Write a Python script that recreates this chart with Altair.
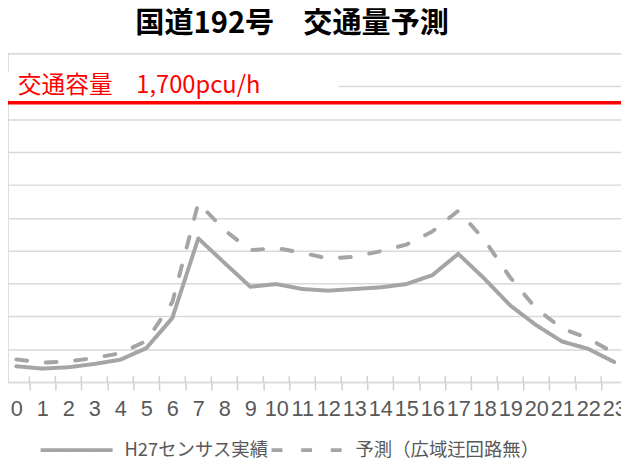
import altair as alt
import pandas as pd

# ---- data ----
hours = ["0", "1", "2", "3", "4", "5", "6", "7", "8", "9", "10", "11",
         "12", "13", "14", "15", "16", "17", "18", "19", "20", "21", "22", "23"]
h27_actual = [96, 82, 90, 110, 136, 206, 390, 874, 726, 580, 596, 566,
              556, 566, 576, 596, 650, 780, 630, 466, 346, 246, 202, 122]
forecast = [138, 118, 126, 146, 176, 250, 486, 1090, 926, 802, 816, 786,
            752, 762, 796, 836, 916, 1042, 866, 636, 446, 326, 266, 176]
series_names = ["H27センサス実績", "予測（広域迂回路無）"]
capacity = 1700
capacity_label = "交通容量　1,700pcu/h"
title_text = "国道192号　交通量予測"
y_gridlines = [0, 200, 400, 600, 800, 1000, 1200, 1400, 1600, 1800, 2000]

rows = []
for h, v in zip(hours, h27_actual):
    rows.append({"hour": h, "value": v, "series": series_names[0]})
for h, v in zip(hours, forecast):
    rows.append({"hour": h, "value": v, "series": series_names[1]})
df = pd.DataFrame(rows)
ticks_df = pd.DataFrame({"hour": hours})
cap_df = pd.DataFrame({"value": [capacity], "label": [capacity_label]})

W, H = 621, 333
GRAY = "#a5a5a5"
GRID = "#d9d9d9"
JP = "Noto Sans CJK JP"

x_scale = alt.Scale(domain=hours, range=[-4.7, 627.3], paddingInner=0, paddingOuter=0)
y_scale = alt.Scale(domain=[0, 2000], nice=False, zero=True)

x_axis = alt.Axis(title=None, labelAngle=0, labelFont="Liberation Sans", labelFontSize=22,
                  labelColor="#595959", labelOverlap=False, labelBound=False, labelFlush=False,
                  tickBand="extent", tickSize=8, tickColor="#cfcfcf", tickWidth=1.5, ticks=True,
                  domainColor=GRID, domainWidth=1.5, labelPadding=9, grid=False)
y_axis = alt.Axis(title=None, labels=False, ticks=False, domain=False, grid=True,
                  gridColor=GRID, gridWidth=1.5, values=y_gridlines)

X = lambda **kw: alt.X("hour:O", scale=x_scale, axis=x_axis, sort=hours, **kw)
Y = lambda: alt.Y("value:Q", scale=y_scale, axis=y_axis)

lines = alt.Chart(df).mark_line(strokeWidth=4, strokeCap="round", strokeJoin="round",
                                color=GRAY).encode(
    x=X(),
    y=Y(),
    strokeDash=alt.StrokeDash("series:N",
                              scale=alt.Scale(domain=series_names, range=[[1, 0], [11, 19]]),
                              legend=alt.Legend(title=None, orient="none", legendX=31, legendY=363,
                                                direction="horizontal", symbolType="stroke",
                                                symbolSize=5329, symbolStrokeWidth=4,
                                                symbolStrokeColor=GRAY,
                                                labelFont=JP, labelFontSize=18.6,
                                                labelColor="#595959", labelOffset=10,
                                                columnPadding=-5, labelLimit=0, padding=0)),
)

inner_ticks = alt.Chart(ticks_df).mark_rule(color="#cfcfcf", strokeWidth=1.5).encode(
    x=X(bandPosition=0),
    y=alt.value(H - 6),
    y2=alt.value(H),
)

label_box = alt.Chart(cap_df).mark_rect(color="white").encode(
    x=alt.value(0), x2=alt.value(335), y=alt.value(19), y2=alt.value(46)
)

cap_rule = alt.Chart(cap_df).mark_rule(color="#ff0000", strokeWidth=3.5).encode(
    y=Y(), x=alt.value(0), x2=alt.value(W)
)

cap_text = alt.Chart(cap_df).mark_text(align="left", baseline="middle", dy=-17,
                                       font=JP, fontSize=24, color="#ff0000").encode(
    x=alt.value(10), y=Y(), text="label:N"
)

chart = alt.layer(lines, inner_ticks, label_box, cap_rule, cap_text).properties(
    width=W, height=H,
    autosize=alt.AutoSizeParams(type="none"),
    padding={"left": 0, "top": 43, "right": 0, "bottom": 74},
    title=alt.TitleParams(title_text, anchor="start", frame="group", dx=129, offset=14,
                          font=JP, fontSize=29.5, fontWeight="bold", color="#000000"),
).configure_view(stroke=None).configure(background="white")

chart.save("out.html", embed_options={"renderer": "svg", "actions": False})
